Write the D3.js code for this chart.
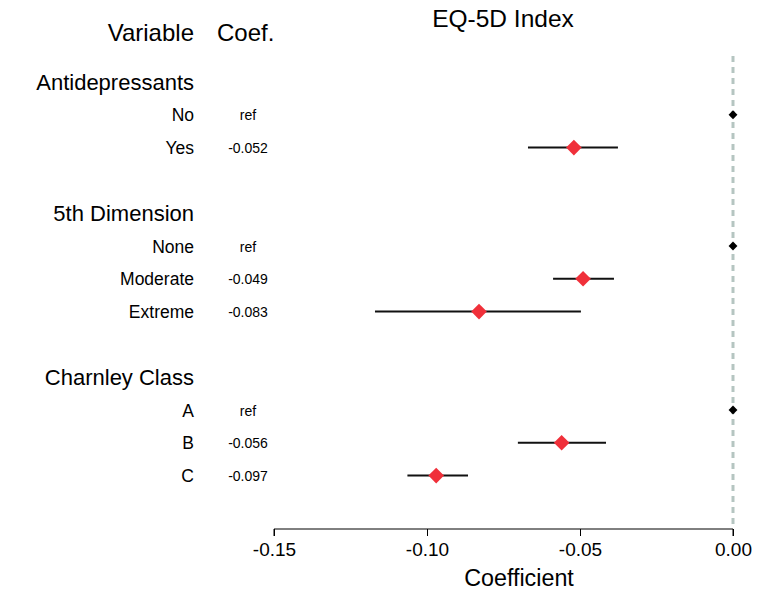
<!DOCTYPE html>
<html><head><meta charset="utf-8">
<script src="https://cdn.jsdelivr.net/npm/d3@7"></script>
<style>body{margin:0;background:#fff}svg{display:block;font-family:"Liberation Sans",Arial,sans-serif}</style>
</head><body><svg id="c" width="782" height="605"></svg>
<script>
const groups = ["Antidepressants", "5th Dimension", "Charnley Class"];
const rowGroup = [0, 0, 1, 1, 1, 2, 2, 2];
const levels = ["No", "Yes", "None", "Moderate", "Extreme", "A", "B", "C"];
const coefs = [0, -0.052, 0, -0.049, -0.083, 0, -0.056, -0.097];
const lower = [null, -0.067, null, -0.0588, -0.117, null, -0.0703, -0.1064];
const upper = [null, -0.0376, null, -0.0389, -0.0497, null, -0.0415, -0.0866];
const isRef = [true, false, true, false, false, true, false, false];
const xTicks = [-0.15, -0.10, -0.05, 0.00];

const fmt = v => d3.format(".3f")(v).replace("\u2212", "-");
const fmt2 = v => d3.format(".2f")(v).replace("\u2212", "-");

const svg = d3.select("#c");
const x = d3.scaleLinear().domain([-0.15, 0]).range([274, 733]);
const slots = [];
groups.forEach((g, gi) => {
  slots.push({type: "h", gi});
  levels.forEach((l, i) => { if (rowGroup[i] === gi) slots.push({type: "l", i}); });
  if (gi < groups.length - 1) slots.push({type: "gap"});
});
const y = d3.scaleLinear().domain([0, 1]).range([82, 82 + 32.8]);
const labelX = 194;

svg.append("text").attr("x", labelX).attr("y", 41).attr("text-anchor", "end")
  .attr("font-size", 24).text("Variable");
svg.append("text").attr("x", 217).attr("y", 41).attr("font-size", 24).text("Coef.");
svg.append("text").attr("x", 503).attr("y", 27).attr("text-anchor", "middle")
  .attr("font-size", 24.5).text("EQ-5D Index");

svg.append("line").attr("x1", x(0)).attr("x2", x(0)).attr("y1", 56).attr("y2", 526)
  .attr("stroke", "#b5c5c1").attr("stroke-width", 3).attr("stroke-dasharray", "6,5");

slots.forEach((s, k) => {
  const yy = y(k);
  if (s.type === "h") {
    svg.append("text").attr("x", labelX).attr("y", yy + 8).attr("text-anchor", "end")
      .attr("font-size", 22).text(groups[s.gi]);
  } else if (s.type === "l") {
    const i = s.i;
    svg.append("text").attr("x", labelX).attr("y", yy + 6.5).attr("text-anchor", "end")
      .attr("font-size", 17.5).text(levels[i]);
    svg.append("text").attr("x", 248).attr("y", yy + 5.5).attr("text-anchor", "middle")
      .attr("font-size", 14).text(isRef[i] ? "ref" : fmt(coefs[i]));
    if (isRef[i]) {
      svg.append("path").attr("d", d3.symbol(d3.symbolDiamond2, 50)())
        .attr("transform", `translate(${x(coefs[i])},${yy})`).attr("fill", "#000");
    } else {
      svg.append("line").attr("x1", x(lower[i])).attr("x2", x(upper[i]))
        .attr("y1", yy).attr("y2", yy).attr("stroke", "#111").attr("stroke-width", 2);
      svg.append("path").attr("d", d3.symbol(d3.symbolDiamond2, 155)())
        .attr("transform", `translate(${x(coefs[i])},${yy})`).attr("fill", "#f0303a");
    }
  }
});

const ax = svg.append("g").attr("transform", "translate(0,529)")
  .call(d3.axisBottom(x).tickValues(xTicks).tickFormat(fmt2).tickSize(7).tickPadding(6));
ax.select(".domain").attr("d", `M${x(-0.15)},7V0H${x(0)}V7`).attr("stroke", "#000");
ax.selectAll(".tick line").attr("stroke", "#000");
ax.selectAll(".tick text").attr("font-size", 19).attr("font-family", "Liberation Sans, Arial, sans-serif")
  .attr("fill", "#000").attr("dy", null).attr("y", 27);
svg.append("text").attr("x", 519).attr("y", 586).attr("text-anchor", "middle")
  .attr("font-size", 23.3).text("Coefficient");
</script></body></html>
